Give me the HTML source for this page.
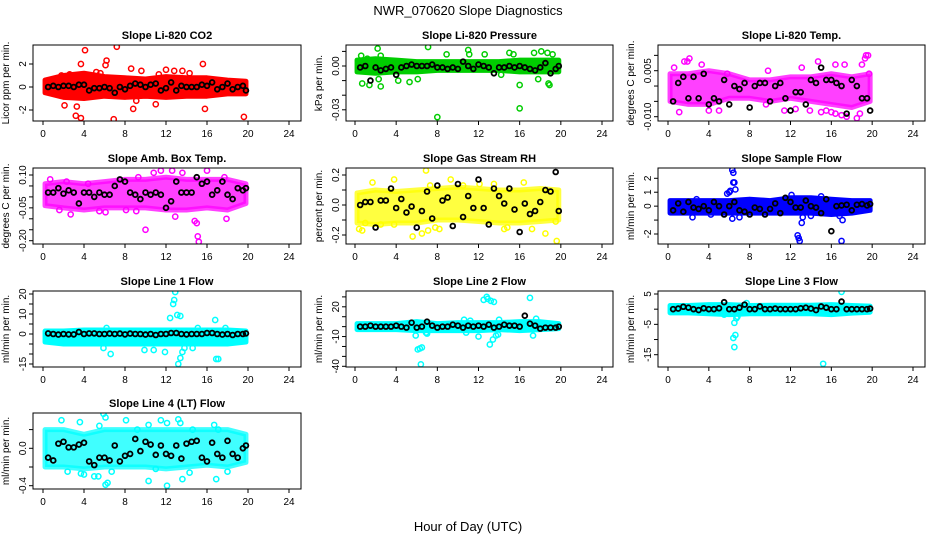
<!DOCTYPE html>
<html><head><meta charset="utf-8">
<style>
html,body{margin:0;padding:0;background:#fff;}
svg{display:block;font-family:"Liberation Sans",Arial,sans-serif;}
</style></head>
<body>
<svg id="chart" width="936" height="540" viewBox="0 0 936 540" xmlns="http://www.w3.org/2000/svg">
<rect width="936" height="540" fill="#fff"/>
<text x="468" y="15" text-anchor="middle" font-size="13">NWR_070620  Slope Diagnostics</text>
<text x="468" y="531" text-anchor="middle" font-size="13">Hour of Day (UTC)</text>
<g id="panels"></g>
</svg>
<script>
const xTicks = [0,4,8,12,16,20,24];
const bandX = [0.2,2,4,6,8,10,12,14,16,18,19.8];
const blackX = [0.5,1,1.5,2,2.5,3,3.5,4,4.5,5,5.5,6,6.5,7,7.5,8,8.5,9,9.5,10,10.5,11,11.5,12,12.5,13,13.5,14,14.5,15,15.5,16,16.5,17,17.5,18,18.5,19,19.5,19.8];

const co2Hi = [0.6,1.0,1.2,0.9,0.8,0.7,0.9,0.8,0.8,0.6,0.5];
const co2Lo = [-0.5,-0.9,-1.0,-0.8,-0.9,-0.8,-0.9,-0.8,-0.8,-0.6,-0.6];
const co2OutX = [4.1,7.2,3.7,6.2,6.1,15.6,2.1,3.3,3.2,3.7,6.9,19.6,8.8,9.1,15.8,11,9.6,12.8,13.6,14.3,8.6,12,1.8,5.2,2.6,5.6,11.3];
const co2OutY = [3.2,3.5,2.0,2.3,1.9,2.0,-1.6,-1.7,-2.5,-2.7,-2.8,-2.6,-1.9,-1.2,-1.9,-1.5,1.4,1.4,1.4,1.2,1.6,1.5,1.0,1.3,1.1,1.2,1.1];
const co2Black = [0,0.1,0,0.1,0.1,0,0.2,0.2,-0.3,-0.1,-0.1,0,-0.1,-0.5,0,-0.2,0.1,0.3,0.2,0,0.2,0.3,-0.3,-0.1,0.4,-0.3,0.1,0,0,0,0.2,0.1,0.4,-0.2,0,0.3,-0.2,0,0.1,-0.3];

const prHi = [0.004,0.005,0.004,0.003,0.003,0.003,0.003,0.003,0.004,0.004,0.004];
const prLo = [-0.004,-0.005,-0.004,-0.004,-0.003,-0.003,-0.003,-0.003,-0.004,-0.004,-0.004];
const prOutX = [2.2,7.1,0.6,1.2,2.5,8.9,11,11.1,12.6,15,15.4,17.4,18.1,18.7,19.2,0.7,1.4,2.5,2.3,4.2,5.3,6.1,16,18.8,18.9,8,16,14.2,17.8];
const prOutY = [0.012,0.013,0.007,0.005,0.007,0.008,0.011,0.008,0.008,0.009,0.008,0.009,0.010,0.009,0.008,-0.012,-0.013,-0.014,-0.009,-0.010,-0.011,-0.009,-0.013,-0.012,-0.013,-0.035,-0.029,-0.006,-0.009];
const prBlack = [-0.001,0,-0.01,-0.001,-0.003,-0.002,-0.001,-0.006,-0.001,0,0.001,0,0,0,0.001,-0.001,-0.001,-0.002,-0.001,-0.002,0.003,0,-0.002,0.001,0,-0.001,-0.005,-0.001,-0.001,0,-0.001,0,-0.001,-0.002,-0.003,-0.001,0.002,-0.005,-0.002,0];

const ltHi = [0.004,0.004,0.005,0.004,0.002,0.002,0.003,0.003,0.004,0.003,0.004];
const ltLo = [-0.005,-0.006,-0.006,-0.004,-0.004,-0.005,-0.004,-0.005,-0.006,-0.007,-0.005];
const ltOutX = [0.6,1.6,1.9,2.1,3.3,5.8,9.8,13.1,14.7,16.4,17.3,19,19.3,19.4,19.6,19.7,1.1,15,15.5,16,16.4,17,17.5,18.5,18.8,4,5,11.4,9.6,13.9,12.5];
const ltOutY = [0.006,0.008,0.008,0.009,0.007,0.004,0.005,0.006,0.008,0.007,0.007,0.007,0.009,0.010,0.010,0.004,-0.0085,-0.0085,-0.008,-0.0085,-0.009,-0.0095,-0.01,-0.0105,-0.009,-0.008,-0.008,-0.008,-0.006,-0.008,-0.0075];
const ltBlack = [-0.005,0.001,0.003,-0.004,0.003,-0.004,0.004,-0.006,-0.004,-0.005,0.002,-0.006,0,-0.001,0.001,-0.007,0,0.001,0.001,-0.005,0,0.001,-0.004,-0.008,-0.002,-0.002,-0.006,0.002,0.001,0.006,0.002,0.002,0.001,0,-0.009,0.002,0,-0.004,-0.004,-0.008];

const abHi = [0.06,0.07,0.06,0.07,0.08,0.08,0.09,0.08,0.08,0.08,0.06];
const abLo = [-0.04,-0.05,-0.06,-0.05,-0.05,-0.05,-0.06,-0.06,-0.05,-0.06,-0.03];
const abOutX = [0.7,2.3,4.4,9.3,10.8,11.5,12.6,13.6,16,17.7,2.7,1.6,8.1,9.1,12.9,14.8,15,17.9,10,15.1,15.2,5.5,6.1];
const abOutY = [0.08,0.07,0.06,0.09,0.11,0.12,0.12,0.11,0.12,0.09,-0.08,-0.06,-0.06,-0.065,-0.09,-0.11,-0.12,-0.10,-0.15,-0.18,-0.205,-0.065,-0.07];
const abBlack = [0.02,0.02,0.04,0.015,0.03,0.02,-0.03,0.02,0.02,0.0,0.02,0.01,0.01,0.05,0.08,0.07,0.02,0.01,-0.01,0.02,0.01,0.02,0.01,-0.05,-0.02,0.07,0.02,0.02,0.02,0.09,0.06,0.07,0.01,0.03,0.07,0.01,-0.01,0.04,0.03,0.04];

const rhHi = [0.08,0.10,0.09,0.10,0.11,0.12,0.11,0.10,0.10,0.11,0.10];
const rhLo = [-0.12,-0.13,-0.12,-0.12,-0.10,-0.10,-0.11,-0.12,-0.12,-0.11,-0.10];
const rhOutX = [0.4,0.7,1.7,3.8,5.6,6.5,6.9,7.1,7.3,7.8,8.2,9.3,10.5,12.1,13.5,14.5,14.8,16.4,17.2,18.5,19.6,19.5,3.8,1.0,2.5];
const rhOutY = [-0.16,-0.17,0.15,0.17,-0.21,-0.19,0.23,-0.17,0.13,-0.15,-0.16,0.17,0.13,0.14,0.14,-0.16,-0.15,0.15,-0.16,-0.19,-0.24,-0.11,-0.13,-0.12,-0.13];
const rhBlack = [0.0,0.02,0.02,-0.15,0.03,0.03,0.11,-0.02,0.04,-0.05,-0.01,-0.15,-0.04,0.09,-0.09,0.13,0.03,0.05,-0.14,0.14,-0.08,0.06,-0.02,0.17,-0.02,-0.13,0.11,0.06,0.01,0.11,-0.03,-0.18,0.01,-0.06,-0.04,0.02,0.1,0.09,0.22,-0.04];

const sfHi = [0.4,0.4,0.4,0.4,0.5,0.4,0.6,0.6,0.5,0.4,0.4];
const sfLo = [-0.5,-0.5,-0.5,-0.5,-0.5,-0.5,-0.5,-0.5,-0.6,-0.5,-0.3];
const sfOutX = [6.3,6.4,6.4,6.5,6.6,6,5.8,6.1,2.8,12.1,15,6.3,7.0,12.7,12.8,12.9,13.1,13.2,17,17.1,16.8,14,2.4,4.2];
const sfOutY = [2.6,2.4,1.7,1.7,1.2,1.0,0.9,1.1,0.5,0.8,0.7,-0.9,-0.8,-2.1,-2.3,-2.5,-1.2,-0.8,-2.5,-1.0,-0.7,-0.7,-0.8,-0.6];
const sfBlack = [-0.3,0.2,-0.4,0.3,-0.1,-0.2,0,-0.3,0.3,0,-0.6,0,0.3,-0.3,-0.4,-0.6,-0.1,-0.2,-0.6,-0.2,0.2,-0.5,0.6,0.3,-0.1,-0.1,0.4,0,-0.1,-0.5,0.5,-1.8,0,0.05,0.1,-0.3,0.1,0.15,0.05,0.15];

const l1Hi = [1.5,1.5,2,2,2,2,2,2,2,2,1.5];
const l1Lo = [-4,-5,-5,-5,-5,-5,-5,-5,-5,-5,-4];
const l1OutX = [12.9,12.8,12.7,12.4,13.1,13.4,16.8,6.2,17.8,15.1,13.2,13.4,13.6,13.8,14.6,16.9,17.1,6.6,9.9,11.9,10.8,5.9];
const l1OutY = [21,17,15,8,9.5,9,7,3,3,3,-15,-12,-9,-7,-7,-12.5,-12.5,-10,-8,-9,-8,-7];
const l1Black = [0.3,0,-0.3,0,-0.2,-0.2,1,0,0.3,0.3,0,0,0.2,0,0.2,-0.2,0.2,0,0,-0.3,0,-0.5,0,0,0.5,0.5,0,-0.2,0,0,0,0.5,0.5,0,-0.3,0,-0.5,0,0,0.3];

const l2Hi = [3,3,3,5,3,4,4,4,5,5,3];
const l2Lo = [-3,-3,-3,-4,-4,-4,-4,-3,-4,-3,-2];
const l2OutX = [12.5,12.8,12.9,13.2,13.5,17,17.6,17.3,5.9,6.1,6.3,6.5,6.4,6.9,7,12,13.1,13.4,13.7,13.9,14,10.6,11.2,10.8];
const l2OutY = [27,30,28,26,25,29,8,-9,-9,-23,-22,-21,-38,-6,-7,-10,-18,-13,-9,-8,7,7,6,-6];
const l2Black = [0,0,1,0,0,0,0,1,0,-1,4,-1,0,5,1,-1,0,0,2,1,-1,1,0,1,0,2,-1,0,2,1,1,0,11,3,1,-2,-1,-1,-1,0];

const l3Hi = [1.2,1.2,1.5,1.5,1.2,1.3,1.3,1.3,1.5,1.2,1];
const l3Lo = [-1.2,-1.2,-1.5,-1.8,-1.5,-1.5,-1.5,-1.5,-1.8,-1.3,-1];
const l3OutX = [6.5,6.8,6.7,6.4,6.6,6.5,15.2,17,7.7,5.5];
const l3OutY = [-4.5,-2.5,-3,-9.5,-8.5,-12.5,-18,5.7,2,-1.8];
const l3Black = [0,0.2,0.8,0.5,0,-0.3,0.3,0,0,0.3,2.3,0,0,0.5,1.5,0,0,0.9,0,0,0.2,0,0,0,0,0.3,0.5,0.2,-0.3,0.9,0.5,0,0,2.5,0,0,0,0,0,0.2];

const l4Hi = [0.2,0.2,0.15,0.2,0.2,0.2,0.2,0.2,0.2,0.2,0.15];
const l4Lo = [-0.2,-0.2,-0.22,-0.2,-0.2,-0.2,-0.22,-0.2,-0.18,-0.2,-0.15];
const l4OutX = [1.8,3.6,5.9,6.1,5.5,8.1,9.2,10.3,11.5,12.1,13.2,13.4,14.6,16.7,17.1,2.4,3.7,4,5,5.4,6.1,6.3,6.7,10.3,11,12.1,13.6,14.3,16.9,18];
const l4OutY = [0.3,0.28,0.37,0.33,0.24,0.3,0.2,0.25,0.3,0.27,0.31,0.27,0.2,0.25,0.2,-0.25,-0.27,-0.28,-0.3,-0.3,-0.39,-0.37,-0.25,-0.35,-0.22,-0.4,-0.33,-0.26,-0.33,-0.25];
const l4Black = [-0.1,-0.13,0.05,0.07,0.01,0.01,0.04,0.06,-0.14,-0.18,-0.1,-0.1,-0.13,0.03,-0.14,-0.08,-0.06,0.1,-0.03,0.07,0.04,-0.07,0.03,-0.06,-0.08,0.03,-0.11,0.05,0.07,0.08,-0.1,-0.14,0.06,-0.06,-0.1,0.08,-0.06,-0.1,0,0.03];

const co2Ticks=[-2,0,2], co2Labels=["-2","0","2"];
const prTicks=[0.01,0,-0.01,-0.02,-0.03], prLabels=["","0.00","","","-0.03"];
const ltTicks=[0.01,0.005,0,-0.005,-0.01], ltLabels=["","0.005","","","-0.010"];
const abTicks=[0.10,0.05,0,-0.05,-0.10,-0.15,-0.20], abLabels=["0.10","","","-0.05","","","-0.20"];
const rhTicks=[0.2,0.1,0,-0.1,-0.2], rhLabels=["0.2","","0.0","","-0.2"];
const sfTicks=[2,1,0,-1,-2], sfLabels=["2","1","0","","-2"];
const l1Ticks=[20,15,10,5,0,-5,-10,-15], l1Labels=["20","","10","","0","","","-15"];
const l2Ticks=[30,20,10,0,-10,-20,-30,-40], l2Labels=["","20","","","-10","","","-40"];
const l3Ticks=[5,0,-5,-10,-15], l3Labels=["5","","-5","","-15"];
const l4Ticks=[0.2,0,-0.2,-0.4], l4Labels=["","0.0","","-0.4"];

const cols=[{l:33,r:301,x0:43,x24:289},{l:346,r:613,x0:355,x24:602},{l:658,r:925,x0:668,x24:913}];
const rows=[{t:45,b:121},{t:168,b:244},{t:291,b:367},{t:413,b:489}];

const panels=[
 {key:'co2',title:'Slope Li-820 CO2',ylab:'Licor ppm per min.',c:0,r:0,col:'#ff0000',op:1,v0:0,p0:87,v1:2,p1:64,hi:co2Hi,lo:co2Lo,ox:co2OutX,oy:co2OutY,bk:co2Black,tk:co2Ticks,tl:co2Labels},
 {key:'pressure',title:'Slope Li-820 Pressure',ylab:'kPa per min.',c:1,r:0,col:'#00cd00',op:1,v0:0,p0:66,v1:-0.03,p1:109.8,hi:prHi,lo:prLo,ox:prOutX,oy:prOutY,bk:prBlack,tk:prTicks,tl:prLabels},
 {key:'li820-temp',title:'Slope Li-820 Temp.',ylab:'degrees C per min.',c:2,r:0,col:'#ff00ff',op:0.75,v0:0.005,p0:70.7,v1:-0.01,p1:116.7,hi:ltHi,lo:ltLo,ox:ltOutX,oy:ltOutY,bk:ltBlack,tk:ltTicks,tl:ltLabels},
 {key:'amb-box-temp',title:'Slope Amb. Box Temp.',ylab:'degrees C per min.',c:0,r:1,col:'#ff00ff',op:0.75,v0:0.10,p0:175,v1:-0.20,p1:240.7,hi:abHi,lo:abLo,ox:abOutX,oy:abOutY,bk:abBlack,tk:abTicks,tl:abLabels},
 {key:'gas-stream-rh',title:'Slope Gas Stream RH',ylab:'percent per min.',c:1,r:1,col:'#ffff00',op:0.75,v0:0.2,p0:175,v1:-0.2,p1:235,hi:rhHi,lo:rhLo,ox:rhOutX,oy:rhOutY,bk:rhBlack,tk:rhTicks,tl:rhLabels},
 {key:'sample-flow',title:'Slope Sample Flow',ylab:'ml/min per min.',c:2,r:1,col:'#0000ff',op:1,v0:2,p0:178.3,v1:-2,p1:234,hi:sfHi,lo:sfLo,ox:sfOutX,oy:sfOutY,bk:sfBlack,tk:sfTicks,tl:sfLabels},
 {key:'line1-flow',title:'Slope Line 1 Flow',ylab:'ml/min per min.',c:0,r:2,col:'#00ffff',op:1,v0:20,p0:294,v1:-15,p1:364,hi:l1Hi,lo:l1Lo,ox:l1OutX,oy:l1OutY,bk:l1Black,tk:l1Ticks,tl:l1Labels},
 {key:'line2-flow',title:'Slope Line 2 Flow',ylab:'ml/min per min.',c:1,r:2,col:'#00ffff',op:1,v0:20,p0:306.8,v1:-40,p1:366.3,hi:l2Hi,lo:l2Lo,ox:l2OutX,oy:l2OutY,bk:l2Black,tk:l2Ticks,tl:l2Labels},
 {key:'line3-flow',title:'Slope Line 3 Flow',ylab:'ml/min per min.',c:2,r:2,col:'#00ffff',op:1,v0:5,p0:294,v1:-15,p1:354.7,hi:l3Hi,lo:l3Lo,ox:l3OutX,oy:l3OutY,bk:l3Black,tk:l3Ticks,tl:l3Labels},
 {key:'line4-flow',title:'Slope Line 4 (LT) Flow',ylab:'ml/min per min.',c:0,r:3,col:'#00ffff',op:0.75,v0:0,p0:448.3,v1:-0.4,p1:485.7,hi:l4Hi,lo:l4Lo,ox:l4OutX,oy:l4OutY,bk:l4Black,tk:l4Ticks,tl:l4Labels}
];

const NS='http://www.w3.org/2000/svg';
const root=document.getElementById('panels');
function mk(tag,attrs,parent){const e=document.createElementNS(NS,tag);for(const k in attrs)e.setAttribute(k,attrs[k]);parent.appendChild(e);return e;}

panels.forEach(p=>{
  const C=cols[p.c], R=rows[p.r];
  const xs=h=>C.x0+(C.x24-C.x0)*h/24;
  const ys=v=>p.p0+(v-p.v0)*(p.p1-p.p0)/(p.v1-p.v0);
  const g=mk('g',{},root);
  
  
  const cid='clip-'+p.key;
  const cp=mk('clipPath',{id:cid},g);
  mk('rect',{x:C.l,y:R.t,width:C.r-C.l,height:R.b-R.t},cp);
  const t=mk('text',{x:(C.l+C.r)/2,y:R.t-6,'text-anchor':'middle','font-size':11,'font-weight':'bold'},g);
  t.textContent=p.title;
  
  
  const yl=mk('text',{transform:`translate(${C.l-24},${(R.t+R.b)/2}) rotate(-90)`,'text-anchor':'middle','font-size':10},g);
  yl.textContent=p.ylab;
  
  
  const plot=mk('g',{'clip-path':`url(#${cid})`},g);
  
  
  let pts=bandX.map((h,i)=>xs(h)+','+ys(p.hi[i]));
  pts=pts.concat(bandX.map((h,i)=>xs(h)+','+ys(p.lo[i])).reverse());
  const band=mk('polygon',{points:pts.join(' '),fill:p.col,stroke:p.col,'stroke-width':5,'stroke-linejoin':'round','fill-opacity':p.op,'stroke-opacity':p.op},plot);
  
  
  p.ox.forEach((h,i)=>{
    const c=mk('circle',{cx:xs(h),cy:ys(p.oy[i]),r:2.6,fill:'none',stroke:p.col,'stroke-width':1.5},plot);
    
    
  });
  blackX.forEach((h,i)=>{
    const c=mk('circle',{cx:xs(h),cy:ys(p.bk[i]),r:2.4,fill:'none',stroke:'#000','stroke-width':1.8},plot);
    
    
  });
  const box=mk('rect',{x:C.l,y:R.t,width:C.r-C.l,height:R.b-R.t,fill:'none',stroke:'#000','stroke-width':1},g);
  
  
  xTicks.forEach(h=>{
    mk('line',{x1:xs(h),x2:xs(h),y1:R.b,y2:R.b+4,stroke:'#000'},g);
    const tx=mk('text',{x:xs(h),y:R.b+16,'text-anchor':'middle','font-size':10},g);
    tx.textContent=h;
    
    
  });
  p.tk.forEach((v,i)=>{
    const y=ys(v);
    if(y<R.t-0.5||y>R.b+0.5)return;
    mk('line',{x1:C.l-4,x2:C.l,y1:y,y2:y,stroke:'#000'},g);
    if(p.tl[i]){
      const ty=mk('text',{transform:`translate(${C.l-7},${y}) rotate(-90)`,'text-anchor':'middle','font-size':10},g);
      ty.textContent=p.tl[i];
      
      
    }
  });
});
</script>
</body></html>
